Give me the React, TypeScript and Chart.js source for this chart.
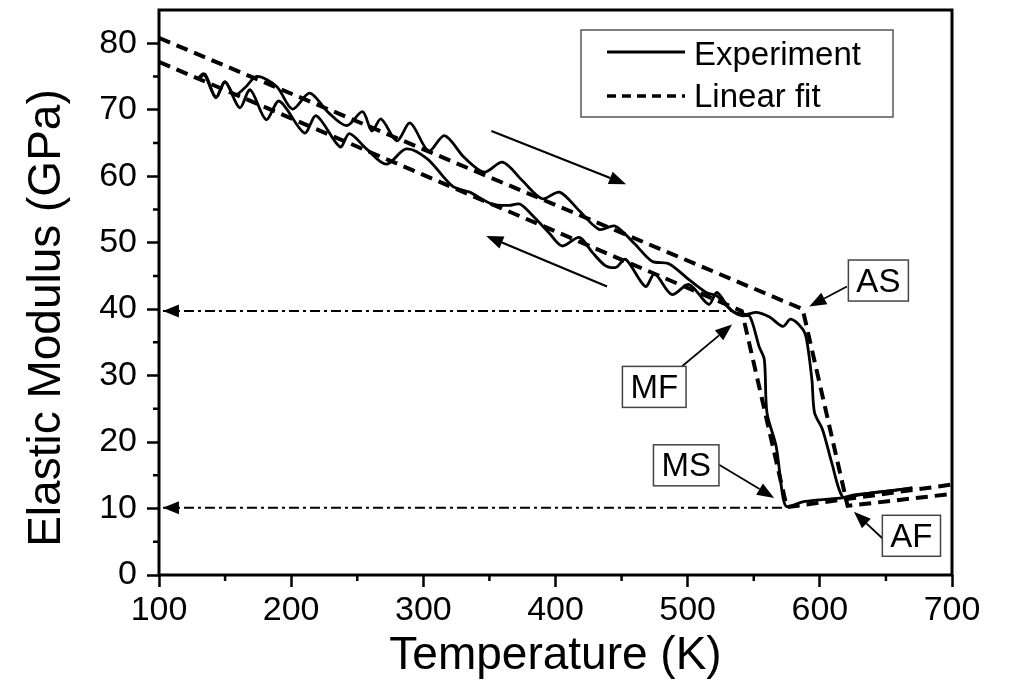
import React, { useEffect, useRef } from "react";
import { Chart, registerables } from "chart.js";

Chart.register(...registerables);

const FONT = "'Liberation Sans', Arial, Helvetica, sans-serif";

// ---- Experiment: heating branch (upper path) ----
const heatingT = [130, 134, 143, 150, 157, 165, 174, 189, 201, 214, 228, 242, 254, 261, 268, 280, 290, 304, 316, 331, 346, 360, 375, 390, 403, 418, 433, 445, 460, 473, 486, 500, 514, 522, 534, 544, 552, 562, 572, 578, 587, 590, 594, 596, 602, 609, 617, 625, 640, 655, 670];
const heatingE = [74.8, 75.4, 71.9, 74.2, 72.2, 73.3, 75.0, 73.5, 70.1, 72.5, 69.6, 67.6, 69.7, 66.8, 68.6, 65.3, 68.0, 63.8, 66.1, 62.8, 60.6, 62.1, 59.3, 56.6, 57.6, 54.8, 52.0, 52.5, 49.8, 47.2, 46.8, 44.6, 42.5, 42.0, 39.7, 39.2, 39.5, 38.8, 37.4, 38.5, 37.0, 35.4, 29.4, 24.4, 21.9, 16.9, 11.8, 12.0, 12.4, 12.7, 13.1];

// ---- Experiment: cooling branch (lower path) ----
const coolingT = [131, 135, 143, 150, 161, 169, 181, 191, 210, 219, 237, 244, 257, 272, 287, 303, 322, 335, 352, 365, 373, 383, 395, 405, 418, 428, 438, 446, 453, 468, 475, 488, 501, 516, 522, 530, 535, 541, 547, 554, 558, 560, 567, 572, 575, 587, 599, 617, 635, 650, 670];
const coolingE = [74.8, 75.3, 71.8, 74.2, 70.3, 73.0, 68.5, 71.3, 66.5, 69.1, 64.4, 66.4, 64.1, 61.8, 64.1, 62.6, 58.5, 57.6, 55.8, 55.6, 55.8, 54.0, 51.5, 49.5, 50.8, 48.5, 46.5, 46.3, 47.5, 43.4, 45.3, 42.2, 43.7, 40.7, 42.5, 40.5, 39.5, 39.0, 38.9, 34.4, 32.4, 24.4, 19.3, 11.8, 10.3, 11.0, 11.3, 11.6, 12.2, 12.6, 13.1];

// ---- Linear fits ----
const heatFitT = [100, 587, 621, 700];
const heatFitE = [80.8, 40.0, 10.4, 12.2];
const coolFitT = [100, 541, 575, 700];
const coolFitE = [77.2, 39.7, 10.2, 13.6];

// ---- Dash-dot guide lines (MF and MS levels) ----
const guideLevels = [39.7, 10.1];
const guideStartT = 103;
const guideEndT = [534, 572];

// ---- Axes ----
const xTickValues = [100, 200, 300, 400, 500, 600, 700];
const xTickLabels = ["100", "200", "300", "400", "500", "600", "700"];
const xMinorTicks = [150, 250, 350, 450, 550, 650];
const yTickValues = [0, 10, 20, 30, 40, 50, 60, 70, 80];
const yTickLabels = ["0", "10", "20", "30", "40", "50", "60", "70", "80"];
const yMinorTicks = [5, 15, 25, 35, 45, 55, 65, 75];

// ---- Legend ----
const legendLabels = ["Experiment", "Linear fit"];

// ---- Direction arrows (heating / cooling) ----
const trendTailT = [351.5, 439];
const trendTailE = [66.8, 43.4];
const trendTipT = [453.4, 347.6];
const trendTipE = [58.8, 51.0];

// ---- Transformation point labels ----
const pointLabels = ["AS", "MF", "MS", "AF"];
const labelT = [644.3, 474.7, 498.9, 669.3];
const labelE = [44.3, 28.3, 16.5, 5.9];
const labelArrowTailT = [620.5, 495.8, 523.8, 648.5];
const labelArrowTailE = [43.4, 31.4, 16.6, 5.3];
const labelArrowTipT = [592, 533.6, 565.4, 625.8];
const labelArrowTipE = [40.4, 37.7, 11.6, 9.5];

const pts = (xs: number[], ys: number[]) => xs.map((x, i) => ({ x, y: ys[i] }));

function drawArrow(ctx: CanvasRenderingContext2D, x1: number, y1: number, x2: number, y2: number, len: number, w: number) {
  const a = Math.atan2(y2 - y1, x2 - x1);
  const bx = x2 - len * Math.cos(a);
  const by = y2 - len * Math.sin(a);
  ctx.beginPath();
  ctx.moveTo(x1, y1);
  ctx.lineTo(bx, by);
  ctx.stroke();
  ctx.beginPath();
  ctx.moveTo(x2, y2);
  ctx.lineTo(bx + (w / 2) * Math.sin(a), by - (w / 2) * Math.cos(a));
  ctx.lineTo(bx - (w / 2) * Math.sin(a), by + (w / 2) * Math.cos(a));
  ctx.closePath();
  ctx.fill();
}

const annotPlugin = {
  id: "annot",
  afterDatasetsDraw(chart: any) {
    const { ctx, chartArea: ca } = chart;
    const xs = chart.scales.x;
    const ys = chart.scales.y;
    ctx.save();

    // frame
    ctx.strokeStyle = "#000";
    ctx.lineWidth = 3;
    ctx.strokeRect(ca.left, ca.top, ca.right - ca.left, ca.bottom - ca.top);

    // minor ticks
    ctx.lineWidth = 2.5;
    ctx.beginPath();
    xMinorTicks.forEach((v) => {
      const px = xs.getPixelForValue(v);
      ctx.moveTo(px, ca.bottom);
      ctx.lineTo(px, ca.bottom + 6);
    });
    yMinorTicks.forEach((v) => {
      const py = ys.getPixelForValue(v);
      ctx.moveTo(ca.left, py);
      ctx.lineTo(ca.left - 6, py);
    });
    ctx.stroke();

    // guide arrowheads (pointing left)
    ctx.fillStyle = "#000";
    guideLevels.forEach((lv) => {
      const tx = xs.getPixelForValue(guideStartT);
      const ty = ys.getPixelForValue(lv);
      ctx.beginPath();
      ctx.moveTo(tx, ty);
      ctx.lineTo(tx + 16, ty - 6.5);
      ctx.lineTo(tx + 16, ty + 6.5);
      ctx.closePath();
      ctx.fill();
    });

    // direction arrows
    ctx.strokeStyle = "#000";
    ctx.lineWidth = 2.2;
    trendTailT.forEach((t, i) => {
      drawArrow(ctx, xs.getPixelForValue(t), ys.getPixelForValue(trendTailE[i]), xs.getPixelForValue(trendTipT[i]), ys.getPixelForValue(trendTipE[i]), 17, 13);
    });

    // label arrows
    ctx.lineWidth = 1.8;
    labelArrowTailT.forEach((t, i) => {
      drawArrow(ctx, xs.getPixelForValue(t), ys.getPixelForValue(labelArrowTailE[i]), xs.getPixelForValue(labelArrowTipT[i]), ys.getPixelForValue(labelArrowTipE[i]), 17, 13);
    });

    // label boxes
    ctx.font = `33px ${FONT}`;
    ctx.textAlign = "center";
    ctx.textBaseline = "middle";
    pointLabels.forEach((lab, i) => {
      const cx = xs.getPixelForValue(labelT[i]);
      const cy = ys.getPixelForValue(labelE[i]);
      const w = ctx.measureText(lab).width + 16;
      const h = 41;
      ctx.fillStyle = "#fff";
      ctx.fillRect(cx - w / 2, cy - h / 2, w, h);
      ctx.strokeStyle = "#444";
      ctx.lineWidth = 1.5;
      ctx.strokeRect(cx - w / 2, cy - h / 2, w, h);
      ctx.fillStyle = "#000";
      ctx.fillText(lab, cx, cy + 2);
    });

    // legend
    const lx = ca.right - 371;
    const ly = ca.top + 20;
    ctx.fillStyle = "#fff";
    ctx.fillRect(lx, ly, 312, 87);
    ctx.strokeStyle = "#555";
    ctx.lineWidth = 1.5;
    ctx.strokeRect(lx, ly, 312, 87);
    ctx.strokeStyle = "#000";
    ctx.lineWidth = 2.8;
    ctx.beginPath();
    ctx.moveTo(lx + 26, ly + 22);
    ctx.lineTo(lx + 104, ly + 22);
    ctx.stroke();
    ctx.lineWidth = 3.5;
    ctx.setLineDash([9, 6]);
    ctx.beginPath();
    ctx.moveTo(lx + 26, ly + 66);
    ctx.lineTo(lx + 104, ly + 66);
    ctx.stroke();
    ctx.setLineDash([]);
    ctx.fillStyle = "#000";
    ctx.font = `33px ${FONT}`;
    ctx.textAlign = "left";
    ctx.textBaseline = "alphabetic";
    ctx.fillText(legendLabels[0], lx + 113, ly + 35);
    ctx.fillText(legendLabels[1], lx + 113, ly + 77);

    ctx.restore();
  },
};

export default function App() {
  const ref = useRef<HTMLCanvasElement | null>(null);

  useEffect(() => {
    if (!ref.current) return;
    const solid = { borderColor: "#000", borderWidth: 2.8, pointRadius: 0, tension: 0.3, fill: false };
    const dashed = { borderColor: "#000", borderWidth: 4, borderDash: [12, 7], pointRadius: 0, tension: 0, fill: false };
    const dashDot = { borderColor: "#000", borderWidth: 2, borderDash: [10, 4, 3, 4], pointRadius: 0, tension: 0, fill: false };

    const chart = new Chart(ref.current, {
      type: "line",
      data: {
        datasets: [
          { label: legendLabels[1] + " heating", data: pts(heatFitT, heatFitE), ...dashed },
          { label: legendLabels[1] + " cooling", data: pts(coolFitT, coolFitE), ...dashed },
          { label: legendLabels[0] + " heating", data: pts(heatingT, heatingE), ...solid },
          { label: legendLabels[0] + " cooling", data: pts(coolingT, coolingE), ...solid },
          { label: "MF level", data: pts([guideStartT, guideEndT[0]], [guideLevels[0], guideLevels[0]]), ...dashDot },
          { label: "MS level", data: pts([guideStartT, guideEndT[1]], [guideLevels[1], guideLevels[1]]), ...dashDot },
        ] as any,
      },
      options: {
        animation: false,
        responsive: false,
        events: [],
        layout: { padding: { left: 0, top: 10, right: 72, bottom: 0 } },
        plugins: { legend: { display: false }, tooltip: { enabled: false } },
        elements: { point: { radius: 0 } },
        scales: {
          x: {
            type: "linear",
            min: 100,
            max: 700,
            afterBuildTicks: (s: any) => {
              s.ticks = xTickValues.map((v) => ({ value: v }));
            },
            afterFit: (s: any) => {
              s.height = 113;
              s.paddingLeft = 0;
              s.paddingRight = 0;
            },
            ticks: {
              font: { family: FONT, size: 34 },
              color: "#000",
              padding: 3,
              maxRotation: 0,
              autoSkip: false,
              callback: (_v: any, i: number) => xTickLabels[i],
            },
            grid: { display: true, drawOnChartArea: false, drawTicks: true, tickLength: 12, tickWidth: 2.5, tickColor: "#000" },
            border: { display: false },
            title: {
              display: true,
              text: "Temperature (K)",
              font: { family: FONT, size: 46 },
              color: "#000",
              padding: { top: 0, bottom: 4 },
            },
          },
          y: {
            type: "linear",
            min: 0,
            max: 85,
            afterBuildTicks: (s: any) => {
              s.ticks = yTickValues.map((v) => ({ value: v }));
            },
            afterFit: (s: any) => {
              s.width = 159;
              s.paddingTop = 0;
              s.paddingBottom = 0;
            },
            ticks: {
              font: { family: FONT, size: 34 },
              color: "#000",
              padding: 10,
              autoSkip: false,
              callback: (_v: any, i: number) => yTickLabels[i],
            },
            grid: { display: true, drawOnChartArea: false, drawTicks: true, tickLength: 12, tickWidth: 2.5, tickColor: "#000" },
            border: { display: false },
            title: {
              display: true,
              text: "Elastic Modulus (GPa)    ",
              font: { family: FONT, size: 46 },
              color: "#000",
              padding: { top: 20, bottom: 0 },
            },
          },
        },
      } as any,
      plugins: [annotPlugin],
    });
    return () => chart.destroy();
  }, []);

  return (
    <div style={{ position: "absolute", left: 0, top: 0, width: 1024, height: 688, background: "#fff" }}>
      <canvas ref={ref} width={1024} height={688} style={{ display: "block" }} />
    </div>
  );
}
